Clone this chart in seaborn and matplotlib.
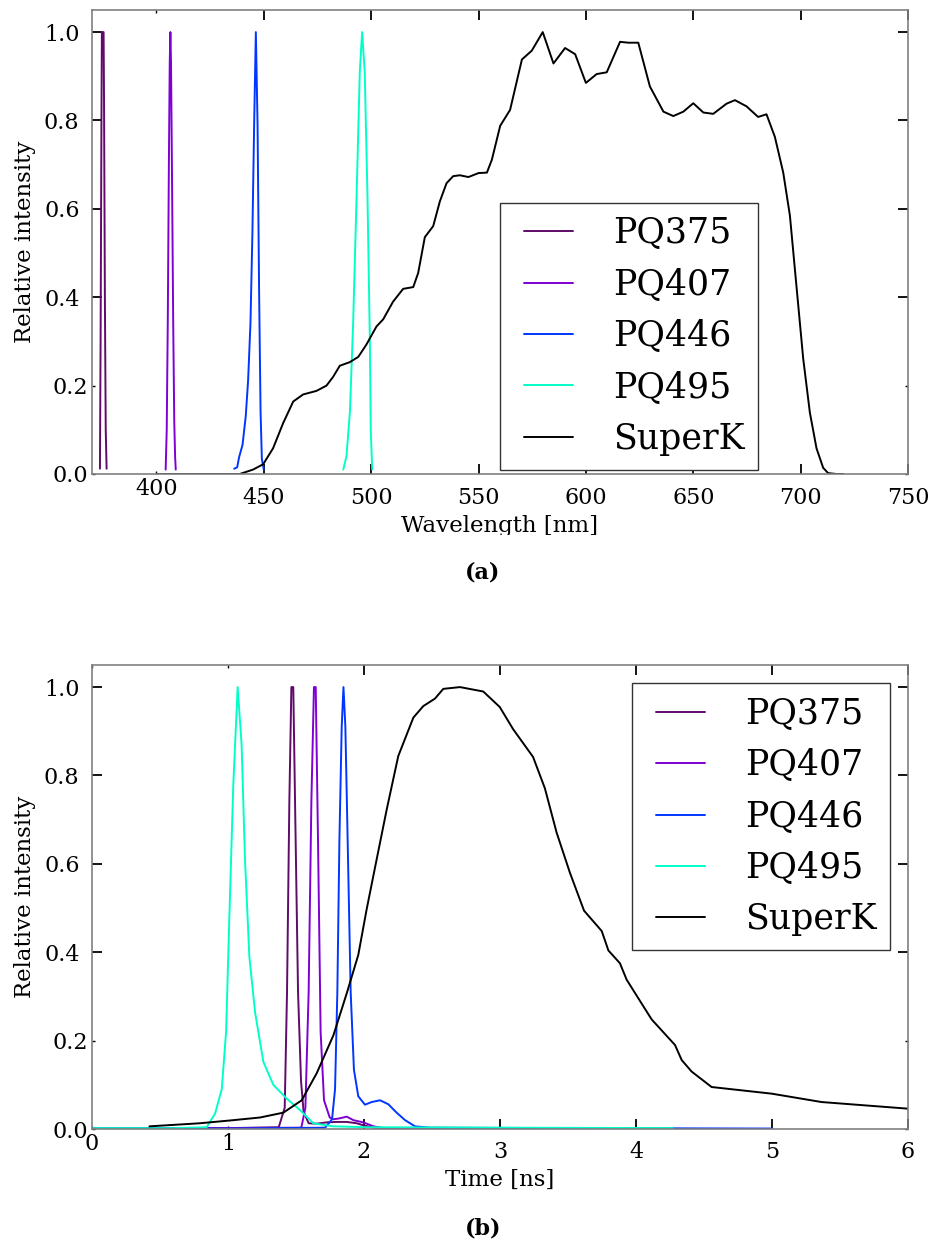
import numpy as np
import matplotlib
matplotlib.use("Agg")
import matplotlib.pyplot as plt
import seaborn as sns
from matplotlib.ticker import FixedLocator, FormatStrFormatter
from matplotlib.transforms import Bbox, TransformedBbox

# ---- (a) spectra ----
wl_375 = [373.7, 374.0, 374.4, 374.6, 375.0, 375.4, 375.6, 376.0, 376.4, 376.8]
int_375 = [0.012, 0.30, 0.80, 1.0, 1.0, 1.0, 0.85, 0.40, 0.10, 0.012]

wl_407 = [404.3, 404.8, 405.3, 405.8, 406.2, 406.5, 406.8, 407.3, 407.8, 408.3, 408.7, 409.0]
int_407 = [0.01, 0.10, 0.35, 0.70, 0.93, 1.0, 0.93, 0.65, 0.35, 0.12, 0.04, 0.01]

wl_446 = [436.2, 437.6, 438.5, 440.1, 441.6, 442.7, 443.8, 444.7, 445.5, 446.3,
          447.1, 447.8, 448.5, 449.1, 450.0]
int_446 = [0.012, 0.015, 0.038, 0.066, 0.131, 0.212, 0.342, 0.545, 0.788, 1.0,
           0.79, 0.42, 0.14, 0.034, 0.01]

wl_495 = [487.0, 488.5, 490.1, 491.6, 493.2, 494.7, 495.8, 497.0, 498.3, 499.4, 499.8, 500.5]
int_495 = [0.01, 0.04, 0.14, 0.34, 0.625, 0.91, 1.0, 0.91, 0.625, 0.30, 0.10, 0.01]

wl_sk = [400, 420, 438.8, 445.0, 449.7, 454.3, 459.0, 463.7, 468.3, 474.5, 479.2,
         482.3, 485.4, 490.0, 494.0, 497.8, 502.5, 505.6, 510.2, 514.9, 519.6, 521.9,
         525.0, 528.9, 532.0, 535.1, 538.2, 541.3, 545.3, 550.0, 553.9, 556.2, 560.1,
         564.7, 570.2, 574.8, 579.9, 584.9, 590.3, 595.0, 600.0, 605.0, 609.7, 615.9,
         619.8, 624.4, 629.8, 636.1, 640.7, 645.4, 650.0, 654.7, 659.3, 665.5, 669.4,
         674.8, 680.2, 684.1, 688.0, 691.9, 695.0, 698.1, 701.2, 704.3, 707.4, 710.5,
         712.8, 716.7, 720]
int_sk = [0, 0, 0, 0.01, 0.022, 0.058, 0.115, 0.164, 0.18, 0.188, 0.2,
          0.22, 0.245, 0.253, 0.265, 0.293, 0.334, 0.35, 0.39, 0.419, 0.423, 0.455,
          0.536, 0.561, 0.617, 0.658, 0.674, 0.676, 0.672, 0.681, 0.682, 0.711, 0.788,
          0.824, 0.938, 0.958, 1.0, 0.929, 0.964, 0.95, 0.885, 0.905, 0.909, 0.978,
          0.976, 0.976, 0.877, 0.82, 0.81, 0.82, 0.839, 0.818, 0.815, 0.838, 0.846,
          0.832, 0.808, 0.814, 0.763, 0.682, 0.585, 0.423, 0.261, 0.139, 0.058, 0.014,
          0.002, 0, 0]

# ---- (b) time profiles ----
t_375 = [0.0, 1.0, 1.373, 1.417, 1.434, 1.451, 1.466, 1.48, 1.495, 1.515, 1.537,
         1.556, 1.593, 1.65, 1.725, 1.80, 1.873, 1.946, 2.0, 2.07, 2.2, 4.0]
i_375 = [0.002, 0.002, 0.004, 0.048, 0.31, 0.74, 1.0, 1.0, 0.70, 0.31, 0.108,
         0.039, 0.013, 0.012, 0.015, 0.016, 0.016, 0.013, 0.008, 0.003, 0.002, 0.002]

t_407 = [0.0, 1.0, 1.539, 1.569, 1.593, 1.613, 1.632, 1.645, 1.662, 1.681, 1.706,
         1.748, 1.775, 1.82, 1.873, 1.922, 1.995, 2.07, 2.14, 2.5, 4.0]
i_407 = [0.002, 0.002, 0.003, 0.048, 0.31, 0.74, 1.0, 1.0, 0.65, 0.22, 0.065,
         0.026, 0.022, 0.024, 0.028, 0.02, 0.015, 0.006, 0.002, 0.002, 0.001]

t_446 = [0.0, 1.0, 1.714, 1.765, 1.787, 1.804, 1.819, 1.836, 1.849, 1.863, 1.88,
         1.902, 1.926, 1.958, 2.007, 2.056, 2.118, 2.179, 2.24, 2.302, 2.375, 2.485,
         3.5, 5.0]
i_446 = [0.001, 0.001, 0.003, 0.022, 0.09, 0.31, 0.65, 0.91, 1.0, 0.91, 0.65,
         0.31, 0.134, 0.074, 0.055, 0.061, 0.065, 0.056, 0.037, 0.02, 0.006, 0.003,
         0.002, 0.001]

t_495 = [0.0, 0.6, 0.843, 0.905, 0.954, 0.986, 1.010, 1.039, 1.071, 1.10, 1.125,
         1.157, 1.199, 1.26, 1.333, 1.431, 1.529, 1.627, 1.775, 2.02, 3.0, 4.27]
i_495 = [0.002, 0.002, 0.004, 0.035, 0.09, 0.22, 0.48, 0.78, 1.0, 0.87, 0.61,
         0.39, 0.264, 0.152, 0.10, 0.069, 0.043, 0.013, 0.006, 0.004, 0.003, 0.002]

t_sk = [0.422, 0.794, 1.039, 1.235, 1.407, 1.542, 1.652, 1.775, 1.873, 1.958, 2.02,
        2.093, 2.167, 2.252, 2.363, 2.436, 2.522, 2.583, 2.706, 2.877, 2.998, 3.096,
        3.243, 3.33, 3.416, 3.514, 3.618, 3.748, 3.797, 3.882, 3.931, 4.029, 4.115,
        4.287, 4.336, 4.409, 4.556, 4.997, 5.365, 6.0]
i_sk = [0.006, 0.013, 0.02, 0.026, 0.037, 0.065, 0.126, 0.212, 0.307, 0.394, 0.498,
        0.61, 0.723, 0.844, 0.931, 0.957, 0.974, 0.996, 1.0, 0.99, 0.955, 0.905,
        0.842, 0.771, 0.671, 0.58, 0.494, 0.448, 0.404, 0.375, 0.338, 0.29, 0.248,
        0.19, 0.156, 0.13, 0.095, 0.08, 0.061, 0.046]

labels = ["PQ375", "PQ407", "PQ446", "PQ495", "SuperK"]
colors = ["#600a6a", "#7f00d2", "#0036ff", "#00ffc8", "black"]

sns.set_theme(style="ticks")
plt.rcParams["font.family"] = ["DejaVu Serif"]
plt.rcParams["text.color"] = "black"
plt.rcParams["axes.labelcolor"] = "black"
plt.rcParams["xtick.color"] = "black"
plt.rcParams["ytick.color"] = "black"
plt.rcParams["axes.edgecolor"] = "#808080"
plt.rcParams["axes.linewidth"] = 1.2

fig = plt.figure(figsize=(9.35, 12.47), dpi=100)
W, H = 935, 1247
ax1 = fig.add_axes([92 / W, (H - 474) / H, 816 / W, 464 / H])
ax2 = fig.add_axes([92 / W, (H - 1129) / H, 816 / W, 464 / H])

spectra = [(wl_375, int_375), (wl_407, int_407), (wl_446, int_446),
           (wl_495, int_495), (wl_sk, int_sk)]
profiles = [(t_375, i_375), (t_407, i_407), (t_446, i_446),
            (t_495, i_495), (t_sk, i_sk)]

LW = 1.4
for (x, y), lab, c in zip(spectra, labels, colors):
    sns.lineplot(x=x, y=y, ax=ax1, color=c, label=lab, lw=LW, sort=False)
for (x, y), lab, c in zip(profiles, labels, colors):
    sns.lineplot(x=x, y=y, ax=ax2, color=c, label=lab, lw=LW, sort=False)


def style(ax, xmaj, xmin, xfmt):
    ax.xaxis.set_major_locator(FixedLocator(xmaj))
    ax.xaxis.set_minor_locator(FixedLocator(xmin))
    ax.xaxis.set_major_formatter(FormatStrFormatter(xfmt))
    ax.xaxis.set_minor_formatter(FormatStrFormatter(xfmt))
    ax.yaxis.set_major_locator(FixedLocator([0.4, 0.6, 0.8, 1.0]))
    ax.yaxis.set_minor_locator(FixedLocator([0.0, 0.2]))
    ax.yaxis.set_major_formatter(FormatStrFormatter("%.1f"))
    ax.yaxis.set_minor_formatter(FormatStrFormatter("%.1f"))
    ax.tick_params(which="both", direction="in", top=True, right=True,
                   color="black", labelsize=16, labelcolor="black")
    ax.tick_params(which="major", length=7, width=1.3, pad=9)
    ax.tick_params(which="minor", length=2, width=1.0, pad=3)
    ax.set_ylim(0, 1.05)
    ax.set_ylabel("Relative intensity", fontsize=16.5, labelpad=6)
    for s in ax.spines.values():
        s.set_color("#808080")


style(ax1, [450, 500, 550, 600, 650, 700, 750], [400], "%d")
ax1.set_xlim(370, 750)
xl = ax1.set_xlabel("Wavelength [nm]", fontsize=16.5, labelpad=5)
# the original panel is cut just below the baseline of its x label
xl.set_clip_box(TransformedBbox(Bbox([[0, (H - 535) / H], [1, 1]]), fig.transFigure))
xl.set_clip_on(True)

style(ax2, [2, 3, 4, 5, 6], [0, 1], "%d")
ax2.set_xlim(0, 6)
ax2.set_xlabel("Time [ns]", fontsize=16.5, labelpad=4)

leg_kw = dict(fontsize=25, frameon=True, fancybox=False, framealpha=1,
              edgecolor="#333333", borderpad=0.4, labelspacing=0.5,
              handlelength=2.0, handletextpad=0.85, numpoints=2, borderaxespad=0,
              labelcolor="black")
l1 = ax1.legend(loc="lower left", bbox_to_anchor=(0.5, 0.009), **leg_kw)
l2 = ax2.legend(loc="upper right", bbox_to_anchor=(0.978, 0.961), **leg_kw)
for lg in (l1, l2):
    lg.get_frame().set_linewidth(1.0)
    for h in lg.get_lines():
        h.set_linewidth(LW)

fig.text(483 / W, 1 - 573 / H, "(a)", ha="center", va="center",
         fontsize=16, fontweight="bold")
fig.text(483 / W, 1 - 1228 / H, "(b)", ha="center", va="center",
         fontsize=16, fontweight="bold")

fig.savefig("out.png", dpi=100)
